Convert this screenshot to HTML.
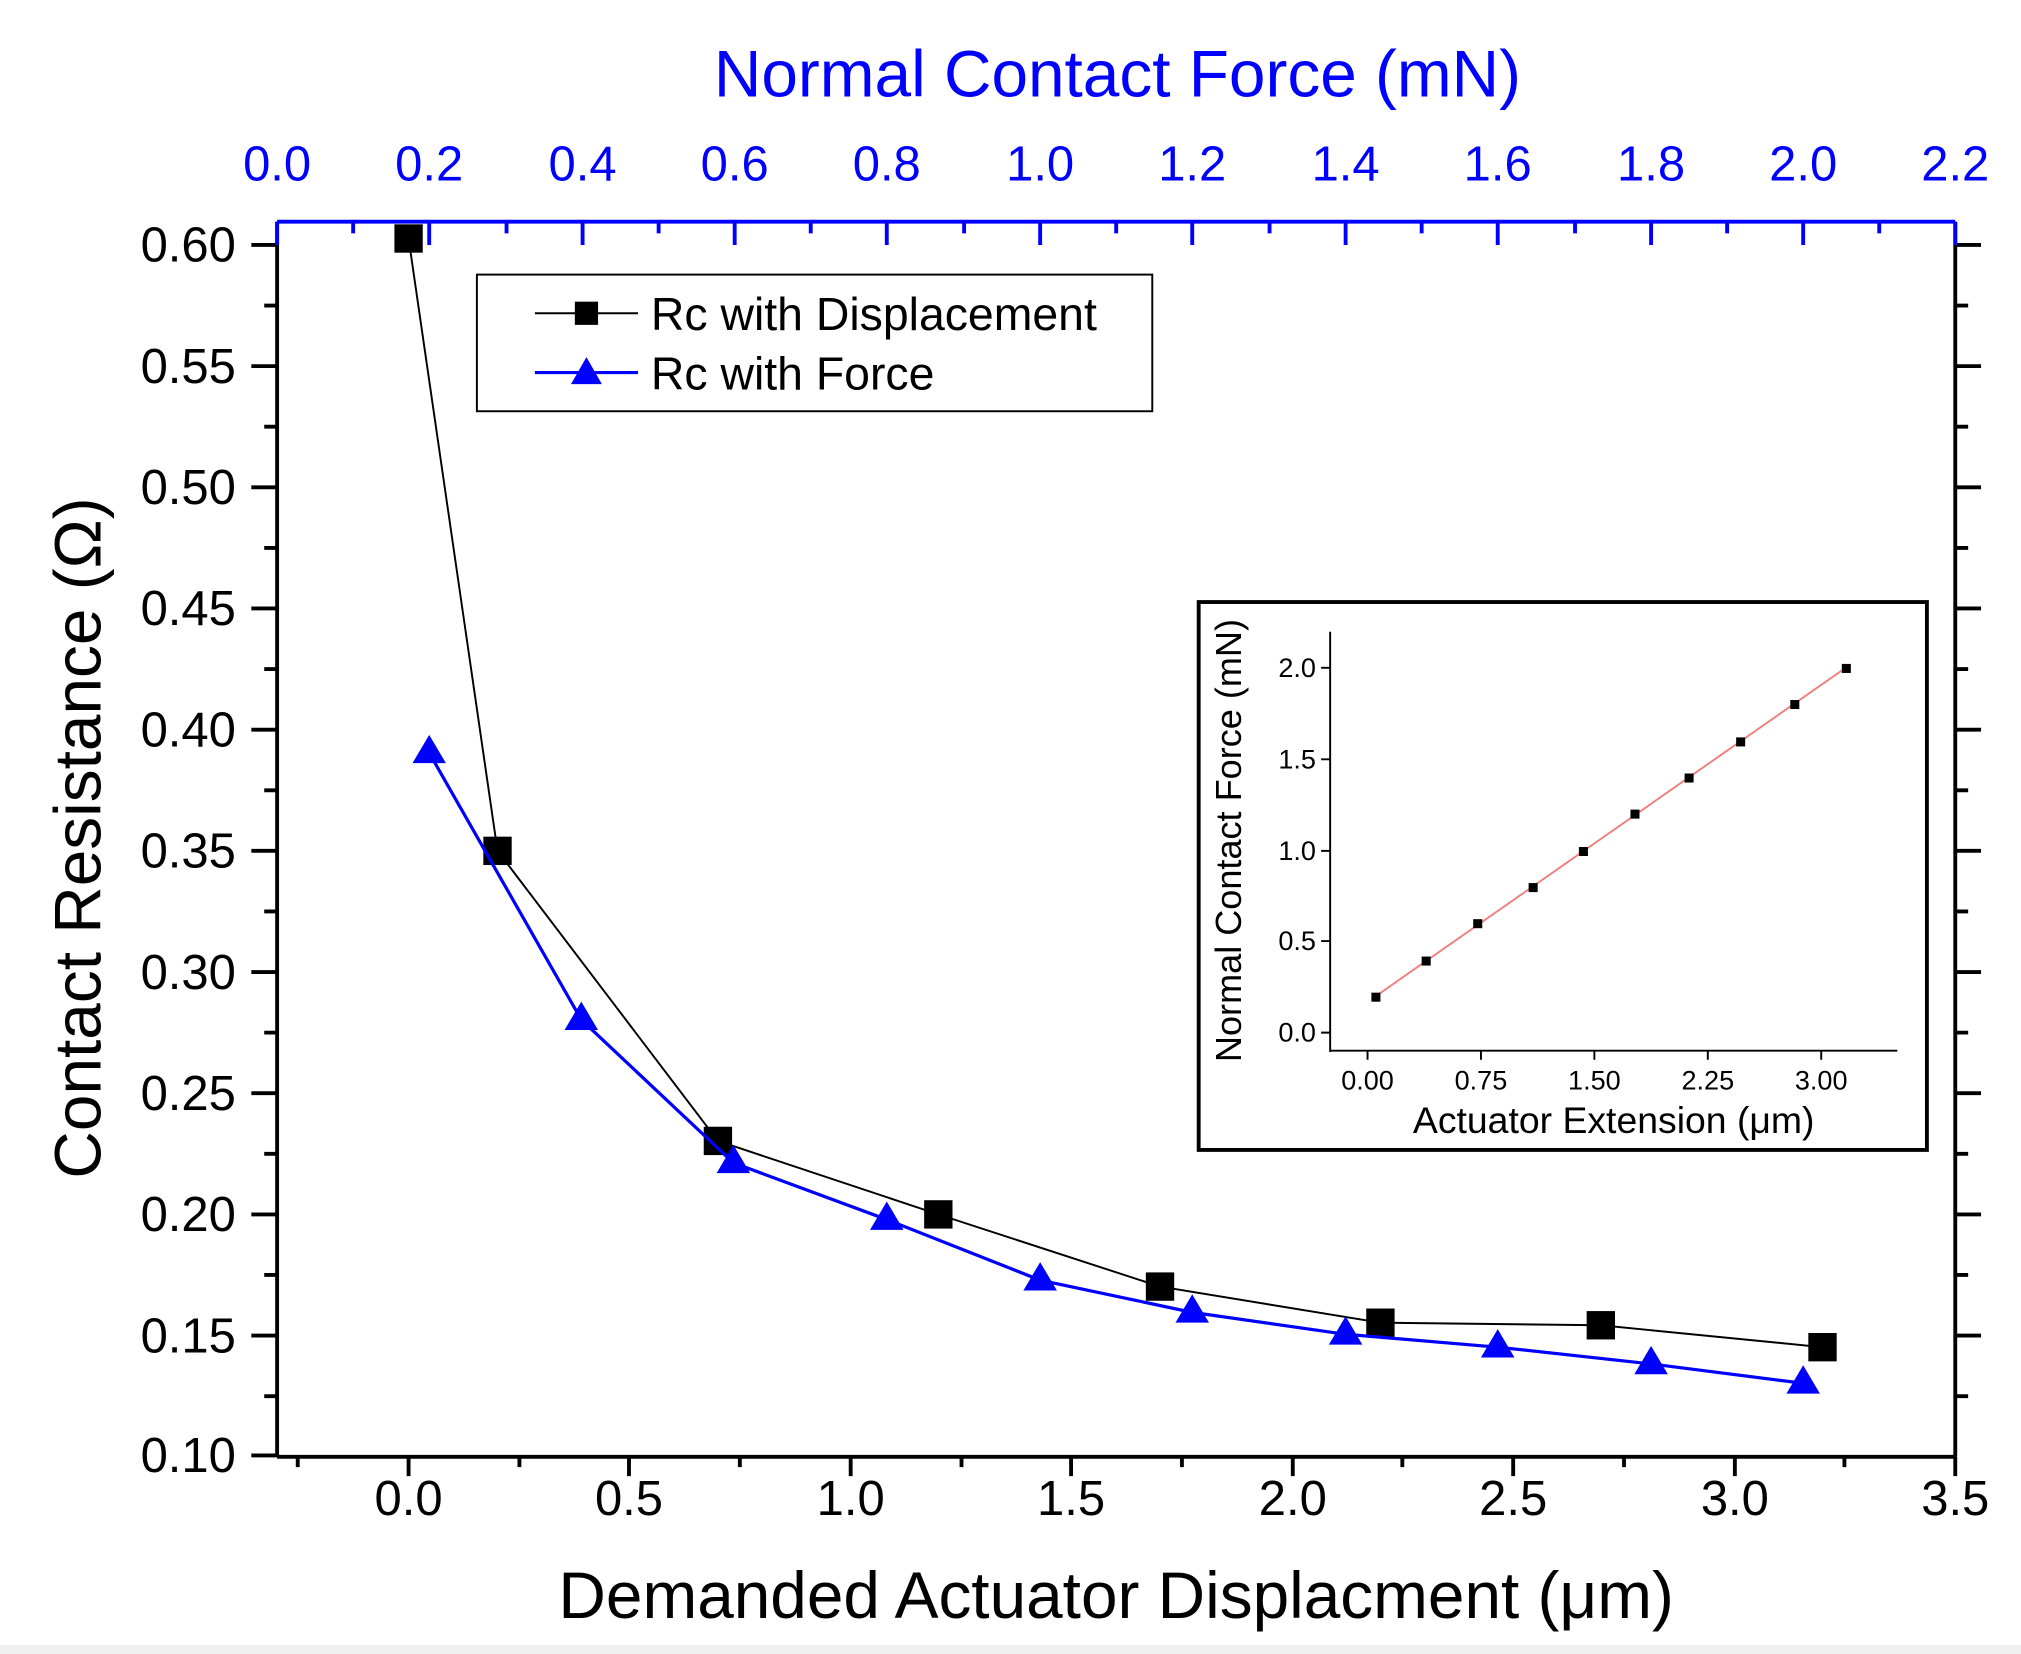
<!DOCTYPE html>
<html><head><meta charset="utf-8"><style>html,body{margin:0;padding:0;background:#fff}svg{display:block}</style></head>
<body>
<svg width="2021" height="1654" viewBox="0 0 1568 1283" preserveAspectRatio="none" xmlns="http://www.w3.org/2000/svg" font-family="Liberation Sans, Arial, sans-serif">
<rect x="0" y="0" width="1568" height="1283" fill="#fff"/>
<rect x="0" y="1276" width="1568" height="7" fill="#f0f0f0"/>
<line x1="215" y1="172" x2="215" y2="1130" stroke="#000" stroke-width="3"/>
<line x1="1517" y1="172" x2="1517" y2="1130" stroke="#000" stroke-width="3"/>
<line x1="215" y1="1130" x2="1517" y2="1130" stroke="#000" stroke-width="3"/>
<line x1="215" y1="172" x2="1517" y2="172" stroke="#0000ff" stroke-width="3"/>
<g stroke="#000" stroke-width="3">
<path d="M195 190H215M195 284H215M195 378H215M195 472H215M195 566H215M195 660H215M195 754H215M195 848H215M195 942H215M195 1036H215M195 1129H215"/>
<path d="M205 237H215M205 331H215M205 425H215M205 519H215M205 613H215M205 707H215M205 801H215M205 895H215M205 989H215M205 1083H215"/>
<path d="M1517 190H1537M1517 284H1537M1517 378H1537M1517 472H1537M1517 566H1537M1517 660H1537M1517 754H1537M1517 848H1537M1517 942H1537M1517 1036H1537"/>
<path d="M1517 237H1527M1517 331H1527M1517 425H1527M1517 519H1527M1517 613H1527M1517 707H1527M1517 801H1527M1517 895H1527M1517 989H1527M1517 1083H1527"/>
<path d="M317 1130V1145M488 1130V1145M660 1130V1145M831 1130V1145M1003 1130V1145M1174 1130V1145M1346 1130V1145M1517 1130V1145"/>
<path d="M231 1130V1138M403 1130V1138M574 1130V1138M746 1130V1138M917 1130V1138M1088 1130V1138M1260 1130V1138M1431 1130V1138"/>
</g>
<g stroke="#0000ff" stroke-width="3">
<path d="M215 172V190M333 172V190M452 172V190M570 172V190M688 172V190M807 172V190M925 172V190M1044 172V190M1162 172V190M1281 172V190M1399 172V190M1517 172V190"/>
<path d="M274 172V181M393 172V181M511 172V181M629 172V181M748 172V181M866 172V181M985 172V181M1103 172V181M1222 172V181M1340 172V181M1458 172V181"/>
</g>
<g font-size="38" text-anchor="end" fill="#000" textLength="83">
<text x="183" y="203">0.60</text><text x="183" y="297">0.55</text><text x="183" y="391">0.50</text><text x="183" y="485">0.45</text><text x="183" y="579">0.40</text><text x="183" y="673">0.35</text><text x="183" y="767">0.30</text><text x="183" y="861">0.25</text><text x="183" y="955">0.20</text><text x="183" y="1049">0.15</text><text x="183" y="1142">0.10</text>
</g>
<g font-size="38" text-anchor="middle" fill="#000">
<text x="317" y="1175">0.0</text><text x="488" y="1175">0.5</text><text x="660" y="1175">1.0</text><text x="831" y="1175">1.5</text><text x="1003" y="1175">2.0</text><text x="1174" y="1175">2.5</text><text x="1346" y="1175">3.0</text><text x="1517" y="1175">3.5</text>
</g>
<g font-size="38" text-anchor="middle" fill="#0000ff">
<text x="215" y="140">0.0</text><text x="333" y="140">0.2</text><text x="452" y="140">0.4</text><text x="570" y="140">0.6</text><text x="688" y="140">0.8</text><text x="807" y="140">1.0</text><text x="925" y="140">1.2</text><text x="1044" y="140">1.4</text><text x="1162" y="140">1.6</text><text x="1281" y="140">1.8</text><text x="1399" y="140">2.0</text><text x="1517" y="140">2.2</text>
</g>
<text x="867" y="75" font-size="51" text-anchor="middle" fill="#0000ff">Normal Contact Force (mN)</text>
<text x="866" y="1255" font-size="51" text-anchor="middle" fill="#000">Demanded Actuator Displacment (μm)</text>
<text transform="translate(78,650) rotate(-90)" font-size="51" text-anchor="middle" fill="#000">Contact Resistance (Ω)</text>
<polyline fill="none" stroke="#000" stroke-width="1.5" points="317,185 386,660 557,885 728,942 900,998 1071,1026 1242,1028 1414,1045"/>
<g fill="#000">
<rect x="306" y="174" width="22" height="22"/><rect x="375" y="649" width="22" height="22"/><rect x="546" y="874" width="22" height="22"/><rect x="717" y="931" width="22" height="22"/><rect x="889" y="987" width="22" height="22"/><rect x="1060" y="1015" width="22" height="22"/><rect x="1231" y="1017" width="22" height="22"/><rect x="1403" y="1034" width="22" height="22"/>
</g>
<polyline fill="none" stroke="#0000ff" stroke-width="2.5" points="333,584 451,791 569,902 688,946 807,993 925,1018 1044,1035 1162,1045 1281,1058 1399,1073"/>
<g fill="#0000ff">
<path d="M333 570l-13 22h26z"/><path d="M451 777l-13 22h26z"/><path d="M569 888l-13 22h26z"/><path d="M688 932l-13 22h26z"/><path d="M807 979l-13 22h26z"/><path d="M925 1004l-13 22h26z"/><path d="M1044 1021l-13 22h26z"/><path d="M1162 1031l-13 22h26z"/><path d="M1281 1044l-13 22h26z"/><path d="M1399 1059l-13 22h26z"/>
</g>
<rect x="370" y="213" width="524" height="106" fill="#fff" stroke="#000" stroke-width="1.5"/>
<line x1="415" y1="243" x2="495" y2="243" stroke="#000" stroke-width="1.5"/>
<rect x="446" y="234" width="18" height="18" fill="#000"/>
<text x="505" y="256" font-size="36">Rc with Displacement</text>
<line x1="415" y1="289" x2="495" y2="289" stroke="#0000ff" stroke-width="2.5"/>
<path d="M455 277l-12 21h24z" fill="#0000ff"/>
<text x="505" y="302" font-size="36">Rc with Force</text>
<rect x="930" y="467" width="565" height="425" fill="#fff" stroke="#000" stroke-width="3"/>
<line x1="1032" y1="490" x2="1032" y2="816" stroke="#000" stroke-width="1.5"/>
<line x1="1032" y1="815" x2="1472" y2="815" stroke="#000" stroke-width="1.5"/>
<g stroke="#000" stroke-width="1.5">
<path d="M1025 801H1032M1025 730H1032M1025 660H1032M1025 589H1032M1025 518H1032"/>
<path d="M1061 815V822M1149 815V822M1237 815V822M1325 815V822M1413 815V822"/>
</g>
<g font-size="21" text-anchor="end"><text x="1021" y="808">0.0</text><text x="1021" y="737">0.5</text><text x="1021" y="667">1.0</text><text x="1021" y="596">1.5</text><text x="1021" y="525">2.0</text></g>
<g font-size="21" text-anchor="middle"><text x="1061" y="845">0.00</text><text x="1149" y="845">0.75</text><text x="1237" y="845">1.50</text><text x="1325" y="845">2.25</text><text x="1413" y="845">3.00</text></g>
<text x="1252" y="879" font-size="29" text-anchor="middle">Actuator Extension (μm)</text>
<text transform="translate(963,652) rotate(-90)" font-size="28" text-anchor="middle">Normal Contact Force (mN)</text>
<line x1="1067" y1="773" x2="1432" y2="518" stroke="#f08080" stroke-width="1.5"/>
<g fill="#000">
<rect x="1064" y="770" width="7" height="7"/><rect x="1103" y="742" width="7" height="7"/><rect x="1143" y="713" width="7" height="7"/><rect x="1186" y="685" width="7" height="7"/><rect x="1225" y="657" width="7" height="7"/><rect x="1265" y="628" width="7" height="7"/><rect x="1307" y="600" width="7" height="7"/><rect x="1347" y="572" width="7" height="7"/><rect x="1389" y="543" width="7" height="7"/><rect x="1429" y="515" width="7" height="7"/>
</g>
</svg>
</body></html>
